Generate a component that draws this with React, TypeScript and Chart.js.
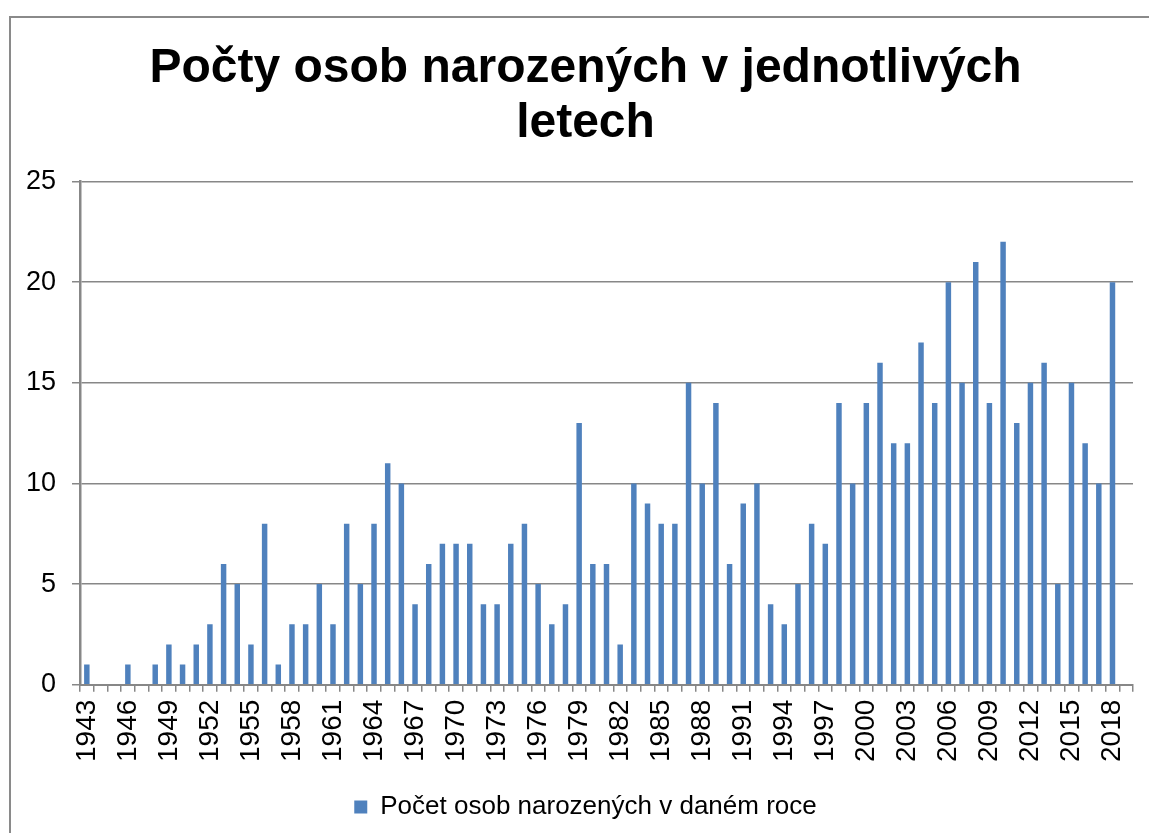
import React, { useEffect, useRef } from "react";
import { Chart, registerables } from "chart.js";

Chart.register(...registerables);

const titleLines = ["Počty osob narozených v jednotlivých", "letech"];
const seriesName = "Počet osob narozených v daném roce";

const years = [
  "1943", "1944", "1945", "1946", "1947", "1948", "1949", "1950", "1951", "1952",
  "1953", "1954", "1955", "1956", "1957", "1958", "1959", "1960", "1961", "1962",
  "1963", "1964", "1965", "1966", "1967", "1968", "1969", "1970", "1971", "1972",
  "1973", "1974", "1975", "1976", "1977", "1978", "1979", "1980", "1981", "1982",
  "1983", "1984", "1985", "1986", "1987", "1988", "1989", "1990", "1991", "1992",
  "1993", "1994", "1995", "1996", "1997", "1998", "1999", "2000", "2001", "2002",
  "2003", "2004", "2005", "2006", "2007", "2008", "2009", "2010", "2011", "2012",
  "2013", "2014", "2015", "2016", "2017", "2018", "",
];

const counts = [
  1, 0, 0, 1, 0, 1, 2, 1, 2, 3,
  6, 5, 2, 8, 1, 3, 3, 5, 3, 8,
  5, 8, 11, 10, 4, 6, 7, 7, 7, 4,
  4, 7, 8, 5, 3, 4, 13, 6, 6, 2,
  10, 9, 8, 8, 15, 10, 14, 6, 9, 10,
  4, 3, 5, 8, 7, 14, 10, 14, 16, 12,
  12, 17, 14, 20, 15, 21, 14, 22, 13, 15,
  16, 5, 15, 12, 10, 20, null,
];

const yTicks = [0, 5, 10, 15, 20, 25];

const FONT = '"Liberation Sans", Arial, Helvetica, sans-serif';
const BAR = "#4F81BD";
const GRID = "#878787";

export default function App() {
  const ref = useRef<HTMLCanvasElement | null>(null);

  useEffect(() => {
    if (!ref.current) return;
    const chart = new Chart(ref.current, {
      type: "bar",
      data: {
        labels: years,
        datasets: [
          {
            label: seriesName,
            data: counts,
            backgroundColor: BAR,
            borderWidth: 0,
            categoryPercentage: 1,
            barPercentage: 0.4,
          },
        ],
      },
      options: {
        animation: false,
        responsive: false,
        devicePixelRatio: 1,
        layout: { padding: { left: 38, right: 16, top: 0, bottom: 3 } },
        plugins: {
          tooltip: { enabled: false },
          title: {
            display: true,
            text: titleLines,
            color: "#000",
            font: { family: FONT, size: 48, weight: "bold", lineHeight: 1.13 },
            padding: { top: 42, bottom: 31 },
          },
          legend: {
            position: "bottom",
            labels: {
              boxWidth: 13,
              boxHeight: 13,
              color: "#000",
              font: { family: FONT, size: 26 },
              padding: 24,
            },
          },
        },
        scales: {
          x: {
            offset: true,
            afterFit: (scale: any) => {
              scale.paddingRight = 0;
              scale.paddingLeft = 0;
            },
            grid: {
              offset: true,
              drawOnChartArea: false,
              drawTicks: true,
              tickLength: 7,
              color: GRID,
              lineWidth: 1.5,
            },
            border: { color: GRID, width: 2 },
            ticks: {
              autoSkip: false,
              maxRotation: 90,
              minRotation: 90,
              padding: 8,
              color: "#000",
              font: { family: FONT, size: 28 },
              callback: (_v: any, i: number) => (i % 3 === 0 ? years[i] : ""),
            },
          },
          y: {
            min: yTicks[0],
            max: yTicks[yTicks.length - 1],
            afterBuildTicks: (axis: any) => {
              axis.ticks = yTicks.map((v) => ({ value: v }));
            },
            afterFit: (scale: any) => {
              scale.width = 42;
              scale._computeLabelArea = () => undefined;
            },
            grid: {
              color: GRID,
              lineWidth: 1.5,
              drawTicks: true,
              tickLength: 8,
            },
            border: { color: GRID, width: 2.5 },
            ticks: {
              padding: 16,
              color: "#000",
              font: { family: FONT, size: 27 },
            },
          },
        },
      },
    });
    return () => chart.destroy();
  }, []);

  return (
    <div
      style={{
        position: "fixed",
        left: 0,
        top: 0,
        width: 1149,
        height: 833,
        overflow: "hidden",
        background: "#fff",
      }}
    >
      <div
        style={{
          position: "absolute",
          left: 9,
          top: 16,
          width: 1200,
          height: 900,
          borderLeft: "2px solid #8a8a8a",
          borderTop: "2px solid #8a8a8a",
        }}
      />
      <canvas
        ref={ref}
        width={1149}
        height={833}
        style={{ position: "absolute", left: 0, top: 0, width: 1149, height: 833 }}
      />
    </div>
  );
}
